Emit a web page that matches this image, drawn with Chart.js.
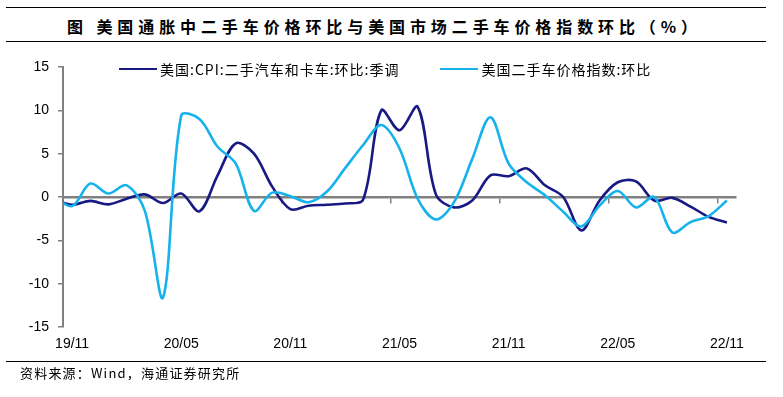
<!DOCTYPE html>
<html lang="zh-CN">
<head>
<meta charset="utf-8">
<script src="https://cdn.jsdelivr.net/npm/chart.js@4.4.0/dist/chart.umd.min.js"></script>
<style>
    html, body { margin: 0; padding: 0; background: #fff; }
    #quadro { position: relative; width: 783px; height: 397px; overflow: hidden; font-family: "Noto Sans CJK SC", sans-serif; color: #000; }
    #grafico { position: absolute; left: 0; top: 0; }
    .linha { position: absolute; left: 6px; width: 760px; height: 0; border-top: 1.6px solid #000; }
    #titulo { position: absolute; left: 67px; top: 13px; font-size: 16px; font-weight: bold; letter-spacing: 4.9px; white-space: nowrap; line-height: 26px; }
    #fonte { position: absolute; left: 20px; top: 363px; font-size: 13px; letter-spacing: 1.2px; white-space: nowrap; line-height: 20px; }
    #legenda { position: absolute; left: 119px; top: 60px; display: flex; gap: 41px; font-size: 14px; letter-spacing: 1px; line-height: 18px; white-space: nowrap; }
    .item { display: flex; align-items: center; }
    .amostra { display: inline-block; width: 38px; height: 2.5px; margin-right: 3px; }
</style>
</head>
<body>
<div id="quadro">
    <div class="linha" style="top:7px"></div>
    <div id="titulo">图 美国通胀中二手车价格环比与美国市场二手车价格指数环比（%）</div>
    <div class="linha" style="top:41px"></div>
    <canvas id="grafico" width="783" height="397"></canvas>
    <div id="legenda"></div>
    <div class="linha" style="top:361px"></div>
    <div id="fonte">资料来源：Wind，海通证券研究所</div>
</div>
<script>
// meses (o primeiro, 19/10, fica cortado na borda do eixo)
const meses = ['19/10', '19/11', '19/12', '20/01', '20/02', '20/03', '20/04', '20/05', '20/06', '20/07',
    '20/08', '20/09', '20/10', '20/11', '20/12', '21/01', '21/02', '21/03', '21/04', '21/05',
    '21/06', '21/07', '21/08', '21/09', '21/10', '21/11', '21/12', '22/01', '22/02', '22/03',
    '22/04', '22/05', '22/06', '22/07', '22/08', '22/09', '22/10', '22/11'];

// 美国:CPI:二手汽车和卡车:环比:季调
const cpiCarrosUsados = [-0.3, -0.9, -0.45, -0.85, -0.2, 0.3, -0.7, 0.4, -1.65, 2.5,
    6.2, 5.0, 1.2, -1.4, -1.0, -0.9, -0.75, -0.3, 10.0, 7.7,
    10.4, 0.3, -1.2, -0.4, 2.5, 2.4, 3.3, 1.35, 0.0, -3.85,
    -0.4, 1.7, 1.8, -0.4, -0.1, -1.1, -2.3, -2.95];

// 美国二手车价格指数:环比
const indiceCarrosUsados = [0.0, -1.05, 1.55, 0.4, 1.35, -1.6, -11.6, 9.4, 9.0, 5.8,
    3.85, -1.6, 0.5, 0.1, -0.6, 0.6, 3.3, 6.0, 8.3, 5.6,
    -0.2, -2.6, -0.6, 4.4, 9.2, 3.85, 1.7, 0.2, -1.7, -3.4,
    -1.0, 0.7, -1.2, 0.0, -4.1, -2.9, -2.2, -0.4];

const rotulosX = ['19/11', '20/05', '20/11', '21/05', '21/11', '22/05', '22/11'];
const ticksY = [-15, -10, -5, 0, 5, 10, 15];

const series = [
    { nome: '美国:CPI:二手汽车和卡车:环比:季调', valores: cpiCarrosUsados, cor: '#191984', ordem: 1 },
    { nome: '美国二手车价格指数:环比', valores: indiceCarrosUsados, cor: '#16b2ec', ordem: 0 }
];

// cada mes ocupa uma unidade; o ponto fica no meio do mes (igual ao eixo de datas do Excel)
const posMes = i => i - 0.5;
const totalMeses = meses.length - 1;
const cinza = '#808080';
const fonteEixo = { family: 'Liberation Sans', size: 14 };

function montarLegenda() {
    const area = document.getElementById('legenda');
    series.forEach(s => {
        const item = document.createElement('div');
        item.className = 'item';
        item.innerHTML = `<span class="amostra" style="background:${s.cor}"></span><span>${s.nome}</span>`;
        area.appendChild(item);
    });
}

const ctx = document.getElementById('grafico').getContext('2d');
new Chart(ctx, {
    type: 'line',
    data: {
        datasets: series.map(s => ({
            label: s.nome,
            data: s.valores.map((v, i) => ({ x: posMes(i), y: v })),
            borderColor: s.cor,
            backgroundColor: s.cor,
            borderWidth: 2.6,
            pointRadius: 0,
            tension: 0.33,
            clip: 0,
            order: s.ordem,
            xAxisID: 'x',
            yAxisID: 'y'
        }))
    },
    options: {
        responsive: false,
        animation: false,
        devicePixelRatio: 1,
        layout: { padding: { left: 0, right: 47, top: 67, bottom: 0 } },
        plugins: { legend: { display: false }, tooltip: { enabled: false }, title: { display: false } },
        scales: {
            x: {
                type: 'linear',
                position: 'bottom',
                min: 0,
                max: totalMeses,
                afterBuildTicks: s => { s.ticks = rotulosX.map(r => ({ value: posMes(meses.indexOf(r)) })); },
                afterFit: s => { s.height = 70; },
                ticks: {
                    autoSkip: false, maxRotation: 0, padding: 9,
                    color: '#000', font: fonteEixo,
                    callback: v => meses[Math.round(v + 0.5)]
                },
                grid: { display: false, drawTicks: false },
                border: { display: false }
            },
            xz: {
                type: 'linear',
                axis: 'x',
                position: { y: 0 },
                min: 0,
                max: totalMeses,
                afterBuildTicks: s => { s.ticks = rotulosX.map(r => ({ value: meses.indexOf(r) - 1 })); },
                ticks: { display: false },
                grid: { drawOnChartArea: false, drawTicks: true, tickLength: 5, color: cinza, lineWidth: 1.5 },
                border: { color: cinza, width: 2.5 }
            },
            y: {
                min: -15,
                max: 15,
                afterBuildTicks: s => { s.ticks = ticksY.map(v => ({ value: v })); },
                afterFit: s => { s.width = 63; },
                ticks: { padding: 9, color: '#000', font: fonteEixo },
                grid: { drawOnChartArea: false, drawTicks: true, tickLength: 5, color: cinza, lineWidth: 1.5 },
                border: { color: cinza, width: 2 }
            }
        }
    }
});

montarLegenda();
</script>
</body>
</html>
